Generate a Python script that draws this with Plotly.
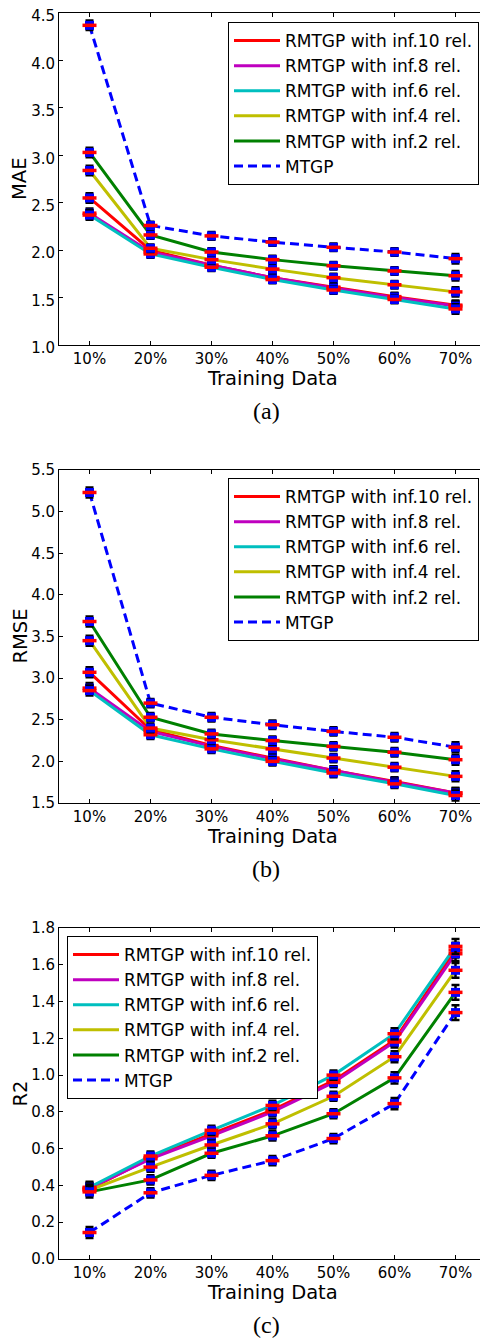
import plotly.graph_objects as go

# ---------------- data ----------------
training = ["10%", "20%", "30%", "40%", "50%", "60%", "70%"]

series_names = ["RMTGP with inf.10 rel.", "RMTGP with inf.8 rel.", "RMTGP with inf.6 rel.",
                "RMTGP with inf.4 rel.", "RMTGP with inf.2 rel.", "MTGP"]
series_colors = ["#FF0000", "#BF00BF", "#00BFBF", "#BFBF00", "#008000", "#0000FF"]
series_dash = ["solid", "solid", "solid", "solid", "solid", "9px,5px"]

# (a) MAE
mae_inf10 = [2.55, 2.00, 1.84, 1.71, 1.61, 1.51, 1.42]
mae_inf8 = [2.39, 1.98, 1.84, 1.71, 1.60, 1.50, 1.41]
mae_inf6 = [2.37, 1.96, 1.82, 1.69, 1.58, 1.48, 1.38]
mae_inf4 = [2.84, 2.02, 1.90, 1.80, 1.71, 1.635, 1.56]
mae_inf2 = [3.03, 2.16, 1.98, 1.90, 1.835, 1.78, 1.73]
mae_mtgp = [4.37, 2.26, 2.15, 2.085, 2.03, 1.98, 1.91]
mae_err = [0.05, 0.04, 0.04, 0.04, 0.04, 0.04, 0.05]

# (b) RMSE
rmse_inf10 = [3.07, 2.38, 2.19, 2.04, 1.89, 1.76, 1.62]
rmse_inf8 = [2.88, 2.36, 2.18, 2.03, 1.89, 1.75, 1.62]
rmse_inf6 = [2.85, 2.32, 2.15, 2.00, 1.86, 1.73, 1.59]
rmse_inf4 = [3.45, 2.40, 2.26, 2.15, 2.04, 1.93, 1.82]
rmse_inf2 = [3.68, 2.53, 2.33, 2.25, 2.18, 2.11, 2.02]
rmse_mtgp = [5.23, 2.70, 2.53, 2.44, 2.36, 2.29, 2.17]
rmse_err = [0.06, 0.05, 0.05, 0.05, 0.05, 0.05, 0.06]

# (c) R2
r2_inf10 = [0.38, 0.55, 0.68, 0.81, 0.97, 1.19, 1.68]
r2_inf8 = [0.385, 0.545, 0.67, 0.80, 0.96, 1.18, 1.66]
r2_inf6 = [0.39, 0.56, 0.70, 0.835, 1.00, 1.225, 1.70]
r2_inf4 = [0.375, 0.50, 0.62, 0.735, 0.885, 1.10, 1.57]
r2_inf2 = [0.365, 0.43, 0.575, 0.67, 0.79, 0.985, 1.45]
r2_mtgp = [0.144, 0.36, 0.455, 0.535, 0.655, 0.845, 1.34]
r2_err = [0.03, 0.025, 0.025, 0.025, 0.025, 0.03, 0.04]

panels = [
    dict(vals=[mae_inf10, mae_inf8, mae_inf6, mae_inf4, mae_inf2, mae_mtgp], err=mae_err,
         ytitle="MAE", caption="(a)", yrange=[1.0, 4.5], dtick=0.5, tickfmt=".1f",
         top=13, bottom=345, legend_xy=(228, 22), labelshift=3),
    dict(vals=[rmse_inf10, rmse_inf8, rmse_inf6, rmse_inf4, rmse_inf2, rmse_mtgp], err=rmse_err,
         ytitle="RMSE", caption="(b)", yrange=[1.5, 5.5], dtick=0.5, tickfmt=".1f",
         top=470, bottom=803, legend_xy=(228, 478), labelshift=0),
    dict(vals=[r2_inf10, r2_inf8, r2_inf6, r2_inf4, r2_inf2, r2_mtgp], err=r2_err,
         ytitle="R2", caption="(c)", yrange=[0.0, 1.8], dtick=0.2, tickfmt=".1f",
         top=928, bottom=1259, legend_xy=(67, 936), labelshift=0),
]

# page body has an 8px margin: figure occupies (8..488, 8..1339) of the window
OFF = 8
W, H = 488 - OFF, 1339 - OFF
X_LEFT, X_RIGHT = 59, 486
FONT = "DejaVu Sans"


def px(xw):
    return (xw - OFF) / W


def py(yw):
    return 1 - (yw - OFF) / H


fig = go.Figure()
layout = dict(width=W, height=H, margin=dict(l=0, r=0, t=0, b=0, autoexpand=False),
              paper_bgcolor="white", plot_bgcolor="white", showlegend=True,
              font=dict(family=FONT, color="black"))
annotations = []

for i, p in enumerate(panels):
    n = "" if i == 0 else str(i + 1)
    xa, ya = "x" + n, "y" + n
    lg = "legend" + n
    # lines (legend entries)
    for name, col, dash, v in zip(series_names, series_colors, series_dash, p["vals"]):
        fig.add_trace(go.Scatter(x=training, y=v, mode="lines", name=name,
                                 line=dict(color=col, width=3, dash=dash),
                                 xaxis=xa, yaxis=ya, legend=lg))
    # markers with error bars
    for name, v in zip(series_names, p["vals"]):
        fig.add_trace(go.Scatter(x=training, y=v, mode="markers", showlegend=False,
                                 marker=dict(symbol="square", size=9, color="#0000FF",
                                             line=dict(width=0)),
                                 error_y=dict(type="data", array=p["err"], color="black",
                                              thickness=2.5, width=4),
                                 xaxis=xa, yaxis=ya, hoverinfo="skip"))
        fig.add_trace(go.Scatter(x=training, y=v, mode="markers", showlegend=False,
                                 marker=dict(symbol="line-ew", size=10, color="#FF0000",
                                             line=dict(width=3.5, color="#FF0000")),
                                 xaxis=xa, yaxis=ya, hoverinfo="skip"))

    ydom = [py(p["bottom"]), py(p["top"])]
    xdom = [px(X_LEFT), px(X_RIGHT)]
    common = dict(showline=True, linecolor="black", linewidth=1, mirror="ticks",
                  ticks="inside", ticklen=4, tickcolor="black", showgrid=False,
                  zeroline=False, ticklabeloverflow="allow",
                  tickfont=dict(family=FONT, size=15, color="black"))
    layout["xaxis" + n] = dict(domain=xdom, anchor=ya, type="category", range=[-0.5, 6.5],
                               **common)
    layout["yaxis" + n] = dict(domain=ydom, anchor=xa, range=p["yrange"], dtick=p["dtick"],
                               tick0=0, tickformat=p["tickfmt"],
                               ticklabelshift=p["labelshift"], **common)
    lx, ly = p["legend_xy"]
    layout[lg] = dict(x=px(lx), y=py(ly), xanchor="left", yanchor="top",
                      bgcolor="white", bordercolor="black", borderwidth=1,
                      itemwidth=46,
                      font=dict(family=FONT, size=17, color="black"))
    annotations.append(dict(text=p["ytitle"], x=px(20), y=py((p["top"] + p["bottom"]) / 2),
                            xref="paper", yref="paper", showarrow=False, textangle=-90,
                            xanchor="center", yanchor="middle",
                            font=dict(family=FONT, size=19.5, color="black")))
    annotations.append(dict(text="Training Data", x=px((X_LEFT + X_RIGHT) / 2),
                            y=py(p["bottom"] + 33), xref="paper", yref="paper",
                            xanchor="center", yanchor="middle",
                            showarrow=False, font=dict(family=FONT, size=19.5, color="black")))
    annotations.append(dict(text=p["caption"], x=px(266), y=py(p["bottom"] + 66),
                            xref="paper", yref="paper", showarrow=False,
                            xanchor="center", yanchor="middle",
                            font=dict(family="Liberation Serif", size=24, color="black")))

layout["annotations"] = annotations
fig.update_layout(**layout)
fig.write_html("out.html")
